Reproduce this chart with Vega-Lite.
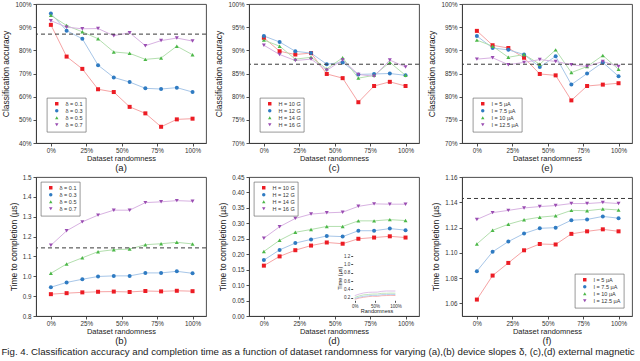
{
"$schema":"https://vega.github.io/schema/vega-lite/v6.json",
"padding":{"left":1,"top":0,"right":0,"bottom":0},
"bounds":"flush",
"columns":3,
"spacing":{"row":34,"column":43},
"title":{"text":"Fig. 4. Classification accuracy and completion time as a function of dataset randomness for varying (a),(b) device slopes δ, (c),(d) external magnetic","orient":"bottom","anchor":"start","frame":"bounds","fontSize":9.7,"fontWeight":"normal","color":"#222","offset":1},
"datasets":{
"a":[
{"x":0,"s":"δ = 0.1","v":91},{"x":11.1,"s":"δ = 0.1","v":77.3},{"x":22.2,"s":"δ = 0.1","v":72},{"x":33.3,"s":"δ = 0.1","v":63.2},{"x":44.4,"s":"δ = 0.1","v":62},{"x":55.6,"s":"δ = 0.1","v":55.6},{"x":66.7,"s":"δ = 0.1","v":52.8},{"x":77.8,"s":"δ = 0.1","v":47},{"x":88.9,"s":"δ = 0.1","v":50.2},{"x":100,"s":"δ = 0.1","v":50.5},
{"x":0,"s":"δ = 0.3","v":95.9},{"x":11.1,"s":"δ = 0.3","v":88.5},{"x":22.2,"s":"δ = 0.3","v":85},{"x":33.3,"s":"δ = 0.3","v":73.6},{"x":44.4,"s":"δ = 0.3","v":68.3},{"x":55.6,"s":"δ = 0.3","v":66.3},{"x":66.7,"s":"δ = 0.3","v":63.6},{"x":77.8,"s":"δ = 0.3","v":63.3},{"x":88.9,"s":"δ = 0.3","v":63.9},{"x":100,"s":"δ = 0.3","v":62},
{"x":0,"s":"δ = 0.5","v":95.1},{"x":11.1,"s":"δ = 0.5","v":90.7},{"x":22.2,"s":"δ = 0.5","v":88},{"x":33.3,"s":"δ = 0.5","v":85},{"x":44.4,"s":"δ = 0.5","v":79.3},{"x":55.6,"s":"δ = 0.5","v":78.7},{"x":66.7,"s":"δ = 0.5","v":76.1},{"x":77.8,"s":"δ = 0.5","v":76.7},{"x":88.9,"s":"δ = 0.5","v":81.8},{"x":100,"s":"δ = 0.5","v":78.1},
{"x":0,"s":"δ = 0.7","v":92.8},{"x":11.1,"s":"δ = 0.7","v":90},{"x":22.2,"s":"δ = 0.7","v":89.3},{"x":33.3,"s":"δ = 0.7","v":89.4},{"x":44.4,"s":"δ = 0.7","v":86.3},{"x":55.6,"s":"δ = 0.7","v":87.6},{"x":66.7,"s":"δ = 0.7","v":82},{"x":77.8,"s":"δ = 0.7","v":84.2},{"x":88.9,"s":"δ = 0.7","v":85.3},{"x":100,"s":"δ = 0.7","v":84}
],
"c":[
{"x":0,"s":"H = 10 G","v":92.7},{"x":11.1,"s":"H = 10 G","v":89.8},{"x":22.2,"s":"H = 10 G","v":89.1},{"x":33.3,"s":"H = 10 G","v":89.4},{"x":44.4,"s":"H = 10 G","v":84.9},{"x":55.6,"s":"H = 10 G","v":84},{"x":66.7,"s":"H = 10 G","v":78.8},{"x":77.8,"s":"H = 10 G","v":82.3},{"x":88.9,"s":"H = 10 G","v":83.2},{"x":100,"s":"H = 10 G","v":82.3},
{"x":0,"s":"H = 12 G","v":93.1},{"x":11.1,"s":"H = 12 G","v":91.8},{"x":22.2,"s":"H = 12 G","v":89.8},{"x":33.3,"s":"H = 12 G","v":89.4},{"x":44.4,"s":"H = 12 G","v":87},{"x":55.6,"s":"H = 12 G","v":87.4},{"x":66.7,"s":"H = 12 G","v":84.8},{"x":77.8,"s":"H = 12 G","v":84.9},{"x":88.9,"s":"H = 12 G","v":85},{"x":100,"s":"H = 12 G","v":84.6},
{"x":0,"s":"H = 14 G","v":92.2},{"x":11.1,"s":"H = 14 G","v":90.9},{"x":22.2,"s":"H = 14 G","v":88.1},{"x":33.3,"s":"H = 14 G","v":88.5},{"x":44.4,"s":"H = 14 G","v":86},{"x":55.6,"s":"H = 14 G","v":88.4},{"x":66.7,"s":"H = 14 G","v":84},{"x":77.8,"s":"H = 14 G","v":84.6},{"x":88.9,"s":"H = 14 G","v":87.4},{"x":100,"s":"H = 14 G","v":84.6},
{"x":0,"s":"H = 16 G","v":91.1},{"x":11.1,"s":"H = 16 G","v":89.1},{"x":22.2,"s":"H = 16 G","v":87.8},{"x":33.3,"s":"H = 16 G","v":88.1},{"x":44.4,"s":"H = 16 G","v":85.7},{"x":55.6,"s":"H = 16 G","v":87.9},{"x":66.7,"s":"H = 16 G","v":84.8},{"x":77.8,"s":"H = 16 G","v":84.4},{"x":88.9,"s":"H = 16 G","v":87.9},{"x":100,"s":"H = 16 G","v":86.4}
],
"e":[
{"x":0,"s":"I = 5 µA","v":94.2},{"x":11.1,"s":"I = 5 µA","v":91.1},{"x":22.2,"s":"I = 5 µA","v":90.5},{"x":33.3,"s":"I = 5 µA","v":88.4},{"x":44.4,"s":"I = 5 µA","v":84.9},{"x":55.6,"s":"I = 5 µA","v":84.6},{"x":66.7,"s":"I = 5 µA","v":79.2},{"x":77.8,"s":"I = 5 µA","v":82.3},{"x":88.9,"s":"I = 5 µA","v":82.6},{"x":100,"s":"I = 5 µA","v":82.9},
{"x":0,"s":"I = 7.5 µA","v":93.1},{"x":11.1,"s":"I = 7.5 µA","v":90.5},{"x":22.2,"s":"I = 7.5 µA","v":90.1},{"x":33.3,"s":"I = 7.5 µA","v":89.1},{"x":44.4,"s":"I = 7.5 µA","v":86.4},{"x":55.6,"s":"I = 7.5 µA","v":88.7},{"x":66.7,"s":"I = 7.5 µA","v":82.6},{"x":77.8,"s":"I = 7.5 µA","v":85},{"x":88.9,"s":"I = 7.5 µA","v":87.4},{"x":100,"s":"I = 7.5 µA","v":84.4},
{"x":0,"s":"I = 10 µA","v":92.2},{"x":11.1,"s":"I = 10 µA","v":90.9},{"x":22.2,"s":"I = 10 µA","v":88.5},{"x":33.3,"s":"I = 10 µA","v":89.1},{"x":44.4,"s":"I = 10 µA","v":87},{"x":55.6,"s":"I = 10 µA","v":90.1},{"x":66.7,"s":"I = 10 µA","v":85.2},{"x":77.8,"s":"I = 10 µA","v":86.5},{"x":88.9,"s":"I = 10 µA","v":88.9},{"x":100,"s":"I = 10 µA","v":85.9},
{"x":0,"s":"I = 12.5 µA","v":88.1},{"x":11.1,"s":"I = 12.5 µA","v":88.4},{"x":22.2,"s":"I = 12.5 µA","v":86.9},{"x":33.3,"s":"I = 12.5 µA","v":87.4},{"x":44.4,"s":"I = 12.5 µA","v":88},{"x":55.6,"s":"I = 12.5 µA","v":87.6},{"x":66.7,"s":"I = 12.5 µA","v":86.9},{"x":77.8,"s":"I = 12.5 µA","v":86.5},{"x":88.9,"s":"I = 12.5 µA","v":87.6},{"x":100,"s":"I = 12.5 µA","v":86.5}
],
"b":[
{"x":0,"s":"δ = 0.1","v":0.91},{"x":11.1,"s":"δ = 0.1","v":0.915},{"x":22.2,"s":"δ = 0.1","v":0.919},{"x":33.3,"s":"δ = 0.1","v":0.922},{"x":44.4,"s":"δ = 0.1","v":0.923},{"x":55.6,"s":"δ = 0.1","v":0.921},{"x":66.7,"s":"δ = 0.1","v":0.926},{"x":77.8,"s":"δ = 0.1","v":0.924},{"x":88.9,"s":"δ = 0.1","v":0.927},{"x":100,"s":"δ = 0.1","v":0.925},
{"x":0,"s":"δ = 0.3","v":0.945},{"x":11.1,"s":"δ = 0.3","v":0.969},{"x":22.2,"s":"δ = 0.3","v":0.985},{"x":33.3,"s":"δ = 0.3","v":0.999},{"x":44.4,"s":"δ = 0.3","v":1.002},{"x":55.6,"s":"δ = 0.3","v":1.002},{"x":66.7,"s":"δ = 0.3","v":1.017},{"x":77.8,"s":"δ = 0.3","v":1.017},{"x":88.9,"s":"δ = 0.3","v":1.025},{"x":100,"s":"δ = 0.3","v":1.015},
{"x":0,"s":"δ = 0.5","v":1.015},{"x":11.1,"s":"δ = 0.5","v":1.062},{"x":22.2,"s":"δ = 0.5","v":1.093},{"x":33.3,"s":"δ = 0.5","v":1.124},{"x":44.4,"s":"δ = 0.5","v":1.134},{"x":55.6,"s":"δ = 0.5","v":1.137},{"x":66.7,"s":"δ = 0.5","v":1.159},{"x":77.8,"s":"δ = 0.5","v":1.164},{"x":88.9,"s":"δ = 0.5","v":1.171},{"x":100,"s":"δ = 0.5","v":1.163},
{"x":0,"s":"δ = 0.7","v":1.156},{"x":11.1,"s":"δ = 0.7","v":1.229},{"x":22.2,"s":"δ = 0.7","v":1.274},{"x":33.3,"s":"δ = 0.7","v":1.308},{"x":44.4,"s":"δ = 0.7","v":1.333},{"x":55.6,"s":"δ = 0.7","v":1.333},{"x":66.7,"s":"δ = 0.7","v":1.371},{"x":77.8,"s":"δ = 0.7","v":1.375},{"x":88.9,"s":"δ = 0.7","v":1.381},{"x":100,"s":"δ = 0.7","v":1.378}
],
"d":[
{"x":0,"s":"H = 10 G","v":0.163},{"x":11.1,"s":"H = 10 G","v":0.193},{"x":22.2,"s":"H = 10 G","v":0.213},{"x":33.3,"s":"H = 10 G","v":0.228},{"x":44.4,"s":"H = 10 G","v":0.238},{"x":55.6,"s":"H = 10 G","v":0.234},{"x":66.7,"s":"H = 10 G","v":0.25},{"x":77.8,"s":"H = 10 G","v":0.254},{"x":88.9,"s":"H = 10 G","v":0.258},{"x":100,"s":"H = 10 G","v":0.254},
{"x":0,"s":"H = 12 G","v":0.181},{"x":11.1,"s":"H = 12 G","v":0.214},{"x":22.2,"s":"H = 12 G","v":0.236},{"x":33.3,"s":"H = 12 G","v":0.248},{"x":44.4,"s":"H = 12 G","v":0.259},{"x":55.6,"s":"H = 12 G","v":0.257},{"x":66.7,"s":"H = 12 G","v":0.276},{"x":77.8,"s":"H = 12 G","v":0.276},{"x":88.9,"s":"H = 12 G","v":0.283},{"x":100,"s":"H = 12 G","v":0.278},
{"x":0,"s":"H = 14 G","v":0.209},{"x":11.1,"s":"H = 14 G","v":0.245},{"x":22.2,"s":"H = 14 G","v":0.271},{"x":33.3,"s":"H = 14 G","v":0.28},{"x":44.4,"s":"H = 14 G","v":0.29},{"x":55.6,"s":"H = 14 G","v":0.29},{"x":66.7,"s":"H = 14 G","v":0.308},{"x":77.8,"s":"H = 14 G","v":0.308},{"x":88.9,"s":"H = 14 G","v":0.312},{"x":100,"s":"H = 14 G","v":0.309},
{"x":0,"s":"H = 16 G","v":0.252},{"x":11.1,"s":"H = 16 G","v":0.289},{"x":22.2,"s":"H = 16 G","v":0.316},{"x":33.3,"s":"H = 16 G","v":0.33},{"x":44.4,"s":"H = 16 G","v":0.334},{"x":55.6,"s":"H = 16 G","v":0.336},{"x":66.7,"s":"H = 16 G","v":0.355},{"x":77.8,"s":"H = 16 G","v":0.363},{"x":88.9,"s":"H = 16 G","v":0.362},{"x":100,"s":"H = 16 G","v":0.362}
],
"f":[
{"x":0,"s":"I = 5 µA","v":1.063},{"x":11.1,"s":"I = 5 µA","v":1.082},{"x":22.2,"s":"I = 5 µA","v":1.092},{"x":33.3,"s":"I = 5 µA","v":1.102},{"x":44.4,"s":"I = 5 µA","v":1.107},{"x":55.6,"s":"I = 5 µA","v":1.1066},{"x":66.7,"s":"I = 5 µA","v":1.115},{"x":77.8,"s":"I = 5 µA","v":1.117},{"x":88.9,"s":"I = 5 µA","v":1.1186},{"x":100,"s":"I = 5 µA","v":1.117},
{"x":0,"s":"I = 7.5 µA","v":1.0855},{"x":11.1,"s":"I = 7.5 µA","v":1.1008},{"x":22.2,"s":"I = 7.5 µA","v":1.1089},{"x":33.3,"s":"I = 7.5 µA","v":1.1153},{"x":44.4,"s":"I = 7.5 µA","v":1.1194},{"x":55.6,"s":"I = 7.5 µA","v":1.1199},{"x":66.7,"s":"I = 7.5 µA","v":1.1258},{"x":77.8,"s":"I = 7.5 µA","v":1.1264},{"x":88.9,"s":"I = 7.5 µA","v":1.1288},{"x":100,"s":"I = 7.5 µA","v":1.1274},
{"x":0,"s":"I = 10 µA","v":1.107},{"x":11.1,"s":"I = 10 µA","v":1.1178},{"x":22.2,"s":"I = 10 µA","v":1.1226},{"x":33.3,"s":"I = 10 µA","v":1.1261},{"x":44.4,"s":"I = 10 µA","v":1.1282},{"x":55.6,"s":"I = 10 µA","v":1.1293},{"x":66.7,"s":"I = 10 µA","v":1.1336},{"x":77.8,"s":"I = 10 µA","v":1.1333},{"x":88.9,"s":"I = 10 µA","v":1.1347},{"x":100,"s":"I = 10 µA","v":1.1339},
{"x":0,"s":"I = 12.5 µA","v":1.1264},{"x":11.1,"s":"I = 12.5 µA","v":1.1318},{"x":22.2,"s":"I = 12.5 µA","v":1.1336},{"x":33.3,"s":"I = 12.5 µA","v":1.1355},{"x":44.4,"s":"I = 12.5 µA","v":1.1366},{"x":55.6,"s":"I = 12.5 µA","v":1.1374},{"x":66.7,"s":"I = 12.5 µA","v":1.139},{"x":77.8,"s":"I = 12.5 µA","v":1.139},{"x":88.9,"s":"I = 12.5 µA","v":1.1398},{"x":100,"s":"I = 12.5 µA","v":1.139}
]
},
"concat":[
{"width":170,"height":139,"title":{"text":"(a)","orient":"bottom"},
 "layer":[
  {"data":{"name":"a"},
   "encoding":{"x":{"field":"x","type":"quantitative","scale":{"domain":[-10.5,109.5],"nice":false},"axis":{"values":[0,25,50,75,100],"labelExpr":"datum.value + '%'","title":"Dataset randomness"}},
               "y":{"field":"v","type":"quantitative","scale":{"domain":[40,100],"nice":false},"axis":{"values":[40,50,60,70,80,90,100],"labelExpr":"datum.value + '%'","title":"Classification accuracy"}}},
   "layer":[
    {"mark":{"type":"line","strokeWidth":1},"encoding":{"stroke":{"field":"s","type":"nominal","scale":{"domain":["δ = 0.7","δ = 0.5","δ = 0.3","δ = 0.1"],"range":["#d8b2e2","#b3dfae","#a7c6e8","#f6a3a4"]},"legend":null}}},
    {"mark":{"type":"point","filled":true,"opacity":1,"size":16},"encoding":{
      "color":{"field":"s","type":"nominal","scale":{"domain":["δ = 0.1","δ = 0.3","δ = 0.5","δ = 0.7"],"range":["#ec1c24","#2f7bc2","#4cb848","#9a4db2"]},"legend":{"orient":"bottom-left","title":null}},
      "shape":{"field":"s","type":"nominal","scale":{"domain":["δ = 0.1","δ = 0.3","δ = 0.5","δ = 0.7"],"range":["square","circle","triangle-up","triangle-down"]},"legend":{"orient":"bottom-left","title":null}}}}
   ]},
  {"data":{"values":[{}]},"mark":{"type":"rule","strokeDash":[4,3],"color":"#3a3a3a","strokeWidth":1},"encoding":{"y":{"datum":87,"type":"quantitative","axis":{"values":[40,50,60,70,80,90,100],"labelExpr":"datum.value + '%'","title":"Classification accuracy"}}}}
 ]},
{"width":170,"height":139,"title":{"text":"(c)","orient":"bottom"},
 "layer":[
  {"data":{"name":"c"},
   "encoding":{"x":{"field":"x","type":"quantitative","scale":{"domain":[-10.5,109.5],"nice":false},"axis":{"values":[0,25,50,75,100],"labelExpr":"datum.value + '%'","title":"Dataset randomness"}},
               "y":{"field":"v","type":"quantitative","scale":{"domain":[70,100],"nice":false},"axis":{"values":[70,75,80,85,90,95,100],"labelExpr":"datum.value + '%'","title":"Classification accuracy"}}},
   "layer":[
    {"mark":{"type":"line","strokeWidth":1},"encoding":{"stroke":{"field":"s","type":"nominal","scale":{"domain":["H = 16 G","H = 14 G","H = 12 G","H = 10 G"],"range":["#d8b2e2","#b3dfae","#a7c6e8","#f6a3a4"]},"legend":null}}},
    {"mark":{"type":"point","filled":true,"opacity":1,"size":16},"encoding":{
      "color":{"field":"s","type":"nominal","scale":{"domain":["H = 10 G","H = 12 G","H = 14 G","H = 16 G"],"range":["#ec1c24","#2f7bc2","#4cb848","#9a4db2"]},"legend":{"orient":"bottom-left","title":null}},
      "shape":{"field":"s","type":"nominal","scale":{"domain":["H = 10 G","H = 12 G","H = 14 G","H = 16 G"],"range":["square","circle","triangle-up","triangle-down"]},"legend":{"orient":"bottom-left","title":null}}}}
   ]},
  {"data":{"values":[{}]},"mark":{"type":"rule","strokeDash":[4,3],"color":"#3a3a3a","strokeWidth":1},"encoding":{"y":{"datum":87,"type":"quantitative","axis":{"values":[70,75,80,85,90,95,100],"labelExpr":"datum.value + '%'","title":"Classification accuracy"}}}}
 ]},
{"width":170,"height":139,"title":{"text":"(e)","orient":"bottom"},
 "layer":[
  {"data":{"name":"e"},
   "encoding":{"x":{"field":"x","type":"quantitative","scale":{"domain":[-10.5,109.5],"nice":false},"axis":{"values":[0,25,50,75,100],"labelExpr":"datum.value + '%'","title":"Dataset randomness"}},
               "y":{"field":"v","type":"quantitative","scale":{"domain":[70,100],"nice":false},"axis":{"values":[70,75,80,85,90,95,100],"labelExpr":"datum.value + '%'","title":"Classification accuracy"}}},
   "layer":[
    {"mark":{"type":"line","strokeWidth":1},"encoding":{"stroke":{"field":"s","type":"nominal","scale":{"domain":["I = 12.5 µA","I = 10 µA","I = 7.5 µA","I = 5 µA"],"range":["#d8b2e2","#b3dfae","#a7c6e8","#f6a3a4"]},"legend":null}}},
    {"mark":{"type":"point","filled":true,"opacity":1,"size":16},"encoding":{
      "color":{"field":"s","type":"nominal","scale":{"domain":["I = 5 µA","I = 7.5 µA","I = 10 µA","I = 12.5 µA"],"range":["#ec1c24","#2f7bc2","#4cb848","#9a4db2"]},"legend":{"orient":"bottom-left","title":null}},
      "shape":{"field":"s","type":"nominal","scale":{"domain":["I = 5 µA","I = 7.5 µA","I = 10 µA","I = 12.5 µA"],"range":["square","circle","triangle-up","triangle-down"]},"legend":{"orient":"bottom-left","title":null}}}}
   ]},
  {"data":{"values":[{}]},"mark":{"type":"rule","strokeDash":[4,3],"color":"#3a3a3a","strokeWidth":1},"encoding":{"y":{"datum":87,"type":"quantitative","axis":{"values":[70,75,80,85,90,95,100],"labelExpr":"datum.value + '%'","title":"Classification accuracy"}}}}
 ]},
{"width":170,"height":139,"title":{"text":"(b)","orient":"bottom"},
 "layer":[
  {"data":{"name":"b"},
   "encoding":{"x":{"field":"x","type":"quantitative","scale":{"domain":[-10.5,109.5],"nice":false},"axis":{"values":[0,25,50,75,100],"labelExpr":"datum.value + '%'","title":"Dataset randomness"}},
               "y":{"field":"v","type":"quantitative","scale":{"domain":[0.8,1.5],"nice":false},"axis":{"values":[0.8,0.9,1.0,1.1,1.2,1.3,1.4,1.5],"format":".1f","title":"Time to completion (µs)"}}},
   "layer":[
    {"mark":{"type":"line","strokeWidth":1},"encoding":{"stroke":{"field":"s","type":"nominal","scale":{"domain":["δ = 0.7","δ = 0.5","δ = 0.3","δ = 0.1"],"range":["#d8b2e2","#b3dfae","#a7c6e8","#f6a3a4"]},"legend":null}}},
    {"mark":{"type":"point","filled":true,"opacity":1,"size":16},"encoding":{
      "color":{"field":"s","type":"nominal","scale":{"domain":["δ = 0.1","δ = 0.3","δ = 0.5","δ = 0.7"],"range":["#ec1c24","#2f7bc2","#4cb848","#9a4db2"]},"legend":{"orient":"top-left","title":null,"offset":5}},
      "shape":{"field":"s","type":"nominal","scale":{"domain":["δ = 0.1","δ = 0.3","δ = 0.5","δ = 0.7"],"range":["square","circle","triangle-up","triangle-down"]},"legend":{"orient":"top-left","title":null,"offset":5}}}}
   ]},
  {"data":{"values":[{}]},"mark":{"type":"rule","strokeDash":[4,3],"color":"#3a3a3a","strokeWidth":1},"encoding":{"y":{"datum":1.143,"type":"quantitative","axis":{"values":[0.8,0.9,1.0,1.1,1.2,1.3,1.4,1.5],"format":".1f","title":"Time to completion (µs)"}}}}
 ]},
{"width":170,"height":139,"title":{"text":"(d)","orient":"bottom"},
 "resolve":{"scale":{"x":"independent","y":"independent"}},
 "layer":[
  {"data":{"name":"d"},
   "encoding":{"x":{"field":"x","type":"quantitative","scale":{"domain":[-10.5,109.5],"nice":false},"axis":{"values":[0,25,50,75,100],"labelExpr":"datum.value + '%'","title":"Dataset randomness"}},
               "y":{"field":"v","type":"quantitative","scale":{"domain":[0,0.45],"nice":false},"axis":{"values":[0,0.05,0.1,0.15,0.2,0.25,0.3,0.35,0.4,0.45],"format":".2f","title":"Time to completion (µs)"}}},
   "layer":[
    {"mark":{"type":"line","strokeWidth":1},"encoding":{"stroke":{"field":"s","type":"nominal","scale":{"domain":["H = 16 G","H = 14 G","H = 12 G","H = 10 G"],"range":["#d8b2e2","#b3dfae","#a7c6e8","#f6a3a4"]},"legend":null}}},
    {"mark":{"type":"point","filled":true,"opacity":1,"size":16},"encoding":{
      "color":{"field":"s","type":"nominal","scale":{"domain":["H = 10 G","H = 12 G","H = 14 G","H = 16 G"],"range":["#ec1c24","#2f7bc2","#4cb848","#9a4db2"]},"legend":{"orient":"top-left","title":null,"offset":5}},
      "shape":{"field":"s","type":"nominal","scale":{"domain":["H = 10 G","H = 12 G","H = 14 G","H = 16 G"],"range":["square","circle","triangle-up","triangle-down"]},"legend":{"orient":"top-left","title":null,"offset":5}}}}
   ]},
  {"data":{"name":"d"},
   "encoding":{"x":{"field":"x","type":"quantitative","scale":{"domain":[-5,112],"nice":false,"range":[103.7,151.3]},"axis":{"orient":"bottom","offset":-15.7,"values":[0,50,100],"labelExpr":"datum.value + '%'","title":"Randomness","labelFontSize":4.5,"titleFontSize":5.5,"tickSize":2,"labelPadding":1,"titlePadding":1,"domain":false}},
               "y":{"field":"v","type":"quantitative","scale":{"domain":[0.14,1.225],"nice":false,"range":[123.3,78]},"axis":{"orient":"left","offset":-103.7,"values":[0.2,0.4,0.6,0.8,1.0,1.2],"format":".1f","title":"Time (µs)","labelFontSize":4.5,"titleFontSize":5.5,"tickSize":2,"labelPadding":1,"titlePadding":1,"domain":false}}},
   "layer":[
    {"data":{"values":[{}]},"mark":{"type":"rect","fill":"white","stroke":"#555","strokeWidth":0.7},"encoding":{"x":{"datum":-5},"x2":{"datum":112},"y":{"datum":0.14},"y2":{"datum":1.225}}},
    {"mark":{"type":"line","strokeWidth":0.8},"encoding":{"stroke":{"field":"s","type":"nominal","legend":null}}},
    {"data":{"values":[{}]},"mark":{"type":"rule","strokeDash":[2,1.5],"color":"#3a3a3a","strokeWidth":0.7},"encoding":{"x":{"datum":-5},"x2":{"datum":112},"y":{"datum":1.143}}}
   ]}
 ]},
{"width":170,"height":139,"title":{"text":"(f)","orient":"bottom"},
 "layer":[
  {"data":{"name":"f"},
   "encoding":{"x":{"field":"x","type":"quantitative","scale":{"domain":[-10.5,109.5],"nice":false},"axis":{"values":[0,25,50,75,100],"labelExpr":"datum.value + '%'","title":"Dataset randomness"}},
               "y":{"field":"v","type":"quantitative","scale":{"domain":[1.05,1.16],"nice":false},"axis":{"values":[1.06,1.08,1.1,1.12,1.14,1.16],"format":".2f","title":"Time to completion (µs)"}}},
   "layer":[
    {"mark":{"type":"line","strokeWidth":1},"encoding":{"stroke":{"field":"s","type":"nominal","scale":{"domain":["I = 12.5 µA","I = 10 µA","I = 7.5 µA","I = 5 µA"],"range":["#d8b2e2","#b3dfae","#a7c6e8","#f6a3a4"]},"legend":null}}},
    {"mark":{"type":"point","filled":true,"opacity":1,"size":16},"encoding":{
      "color":{"field":"s","type":"nominal","scale":{"domain":["I = 5 µA","I = 7.5 µA","I = 10 µA","I = 12.5 µA"],"range":["#ec1c24","#2f7bc2","#4cb848","#9a4db2"]},"legend":{"orient":"bottom-right","title":null,"offset":8}},
      "shape":{"field":"s","type":"nominal","scale":{"domain":["I = 5 µA","I = 7.5 µA","I = 10 µA","I = 12.5 µA"],"range":["square","circle","triangle-up","triangle-down"]},"legend":{"orient":"bottom-right","title":null,"offset":8}}}}
   ]},
  {"data":{"values":[{}]},"mark":{"type":"rule","strokeDash":[4,3],"color":"#3a3a3a","strokeWidth":1},"encoding":{"y":{"datum":1.143,"type":"quantitative","axis":{"values":[1.06,1.08,1.1,1.12,1.14,1.16],"format":".2f","title":"Time to completion (µs)"}}}}
 ]}
],
"resolve":{"scale":{"color":"independent","shape":"independent","stroke":"independent"}},
"config":{
 "font":"Liberation Sans",
 "view":{"stroke":"#3a3a3a","strokeWidth":0.9},
 "axis":{"grid":false,"labelFontSize":6.3,"labelColor":"#333","titleColor":"#222","titleFontWeight":"normal","tickColor":"#3a3a3a","domainColor":"#3a3a3a","tickSize":3,"labelPadding":2,"domainWidth":0.9,"tickWidth":0.9},
 "axisX":{"titleFontSize":7.5,"titlePadding":1,"labelPadding":1.5},
 "axisY":{"titleFontSize":8.5,"titlePadding":4},
 "legend":{"padding":3,"strokeColor":"#555","strokeWidth":0.6,"fillColor":"white","labelFontSize":5.5,"labelColor":"#333","symbolSize":12,"rowPadding":0,"symbolOffset":4,"labelOffset":6,"offset":11,"titlePadding":0,"cornerRadius":0},
 "title":{"fontSize":9.5,"fontWeight":"normal","color":"#222","offset":1}
}
}
